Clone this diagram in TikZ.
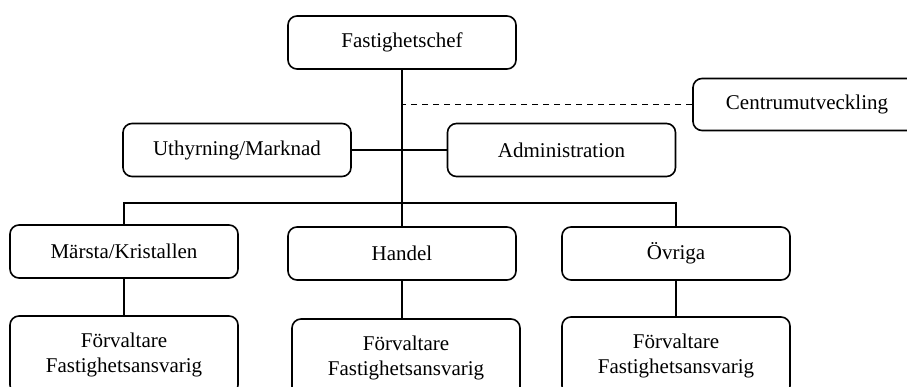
\documentclass[tikz,border=0pt]{standalone}
\usepackage{fontspec}
\setmainfont{Liberation Serif}
\usepackage{tikz}
\usetikzlibrary{positioning}

\begin{document}
\begin{tikzpicture}[x=1pt,y=-1pt,
		box/.style={draw,line width=1.6pt,rounded corners=9pt,align=center,
			minimum width=228pt,minimum height=53pt,
			font=\fontsize{21}{25}\selectfont},
		lowbox/.style={box,minimum height=78pt},
		conn/.style={line width=1.6pt}]
			\useasboundingbox (0,0) rectangle (907,387);
			\clip (0,0) rectangle (907,387);
			\node[box] (chef) at (402,42.5) {Fastighetschef};
			\node[box,minimum height=52pt] (centrum) at (807,104.5) {Centrumutveckling};
			\node[box] (uthyr) at (237,150) {Uthyrning/Marknad};
			\node[box] (admin) at (561.5,150) {Administration};
			\node[box] (marsta) at (124,251.5) {Märsta/Kristallen};
			\node[box] (handel) at (402,253.5) {Handel};
			\node[box] (ovriga) at (676,253.5) {Övriga};
			\node[lowbox] (forv1) at (124,355) {Förvaltare\\Fastighetsansvarig};
			\node[lowbox] (forv2) at (406,358) {Förvaltare\\Fastighetsansvarig};
			\node[lowbox] (forv3) at (676,356) {Förvaltare\\Fastighetsansvarig};
			\coordinate (bus) at (402,203);
			% connectors
			\draw[conn] (chef.south) -- (handel.north);
			\draw[conn,dash pattern=on 6pt off 5pt] (centrum.west) -- (centrum.west -| chef.south);
			\draw[conn] (uthyr.east) -- (admin.west);
			\draw[conn] (marsta.north) |- (bus) -| (ovriga.north);
			\draw[conn] (marsta.south) -- (forv1.north);
			\draw[conn] (handel.south) -- (handel.south |- forv2.north);
			\draw[conn] (ovriga.south) -- (forv3.north);
		\end{tikzpicture}
\end{document}
